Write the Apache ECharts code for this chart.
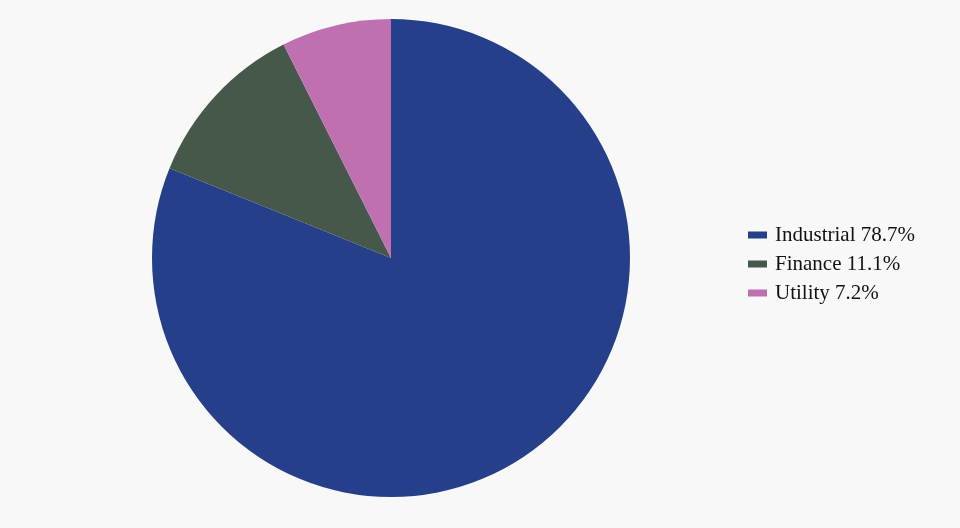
<!DOCTYPE html>
<html><head><meta charset="utf-8">
<script src="https://cdn.jsdelivr.net/npm/echarts@6/dist/echarts.min.js"></script>
<style>html,body{margin:0;padding:0;background:#f8f8f8}#c{width:960px;height:528px}</style>
</head><body><div id="c"></div>
<script>
const categories = ["Industrial", "Finance", "Utility"];
const values = [78.7, 11.1, 7.2];
const colors = ["#253f8a", "#45584a", "#c070b0"];
const chart = echarts.init(document.getElementById('c'));
chart.setOption({
  backgroundColor: '#f8f8f8',
  animation: false,
  legend: {
    orient: 'vertical',
    left: 743,
    top: 'middle',
    itemWidth: 19,
    itemHeight: 7,
    itemGap: 8,
    icon: 'rect',
    textStyle: { fontFamily: 'Liberation Serif', fontSize: 21, color: '#111', padding: [0, 0, 0, 3] },
    formatter: name => name + ' ' + values[categories.indexOf(name)].toFixed(1) + '%'
  },
  series: [{
    type: 'pie',
    center: [391, 258],
    radius: 239,
    startAngle: 90,
    clockwise: true,
    label: { show: false },
    labelLine: { show: false },
    itemStyle: { borderWidth: 0 },
    data: categories.map((c, i) => ({ name: c, value: values[i], itemStyle: { color: colors[i] } }))
  }]
});
</script></body></html>
